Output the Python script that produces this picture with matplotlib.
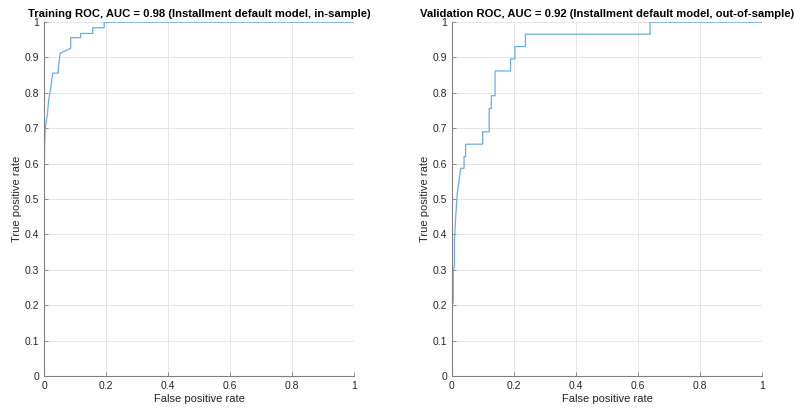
import numpy as np
import matplotlib.pyplot as plt

plt.rcParams['font.family'] = ['Liberation Sans', 'DejaVu Sans']

# ROC points (false positive rate, true positive rate)
train_fpr = [0, 0, 0.002, 0.004, 0.007, 0.011, 0.015, 0.019, 0.024, 0.028, 0.046, 0.046,
             0.052, 0.086, 0.086, 0.118, 0.118, 0.157, 0.157, 0.194, 0.194, 1]
train_tpr = [0, 0.55, 0.66, 0.70, 0.72, 0.74, 0.78, 0.80, 0.83, 0.856, 0.856, 0.87,
             0.912, 0.926, 0.956, 0.956, 0.968, 0.968, 0.984, 0.984, 1, 1]

val_fpr = [0, 0, 0.001, 0.004, 0.004, 0.008, 0.008, 0.012, 0.017, 0.023, 0.028, 0.039,
           0.039, 0.044, 0.044, 0.099, 0.099, 0.12, 0.12, 0.127, 0.127, 0.139, 0.139,
           0.189, 0.189, 0.203, 0.203, 0.237, 0.237, 0.639, 0.639, 1]
val_tpr = [0, 0.1, 0.206, 0.206, 0.30, 0.31, 0.384, 0.45, 0.516, 0.554, 0.587, 0.587,
           0.62, 0.62, 0.655, 0.655, 0.69, 0.69, 0.756, 0.756, 0.792, 0.792, 0.862,
           0.862, 0.896, 0.896, 0.931, 0.931, 0.966, 0.966, 1, 1]

titles = ['Training ROC, AUC = 0.98 (Installment default model, in-sample)',
          'Validation ROC, AUC = 0.92 (Installment default model, out-of-sample)']

fig = plt.figure(figsize=(7.96, 4.11), dpi=100)
ax1 = fig.add_axes([0.0553, 0.0852, 0.3894, 0.861])
ax2 = fig.add_axes([0.5678, 0.0852, 0.3894, 0.861])

curves = [(train_fpr, train_tpr), (val_fpr, val_tpr)]
for ax, (fpr, tpr), title in zip([ax1, ax2], curves, titles):
    ax.plot(fpr, tpr, color='#6aaee0', lw=0.9)
    ax.set_xlim(0, 1)
    ax.set_ylim(0, 1)
    ax.set_xticks(np.arange(0, 1.01, 0.2))
    ax.set_yticks(np.arange(0, 1.01, 0.1))
    ax.set_xticklabels(['0', '0.2', '0.4', '0.6', '0.8', '1'])
    ax.set_yticklabels(['0'] + ['%.1f' % v for v in np.arange(0.1, 0.95, 0.1)] + ['1'])
    ax.grid(True, color='#e6e6e6', lw=0.7)
    ax.set_axisbelow(True)
    for s in ['top', 'right']:
        ax.spines[s].set_visible(False)
    for s in ['left', 'bottom']:
        ax.spines[s].set_color('#808080')
        ax.spines[s].set_linewidth(0.8)
    ax.tick_params(direction='in', length=3, labelsize=7.5, width=0.6,
                   colors='#808080', labelcolor='#262626')
    ax.set_xlabel('False positive rate', fontsize=8, color='#262626', labelpad=2)
    ax.set_ylabel('True positive rate', fontsize=8, color='#262626', labelpad=2)
    ax.set_title(title, fontsize=8.1, fontweight='bold', pad=4)

plt.savefig('out.png', dpi=100)
